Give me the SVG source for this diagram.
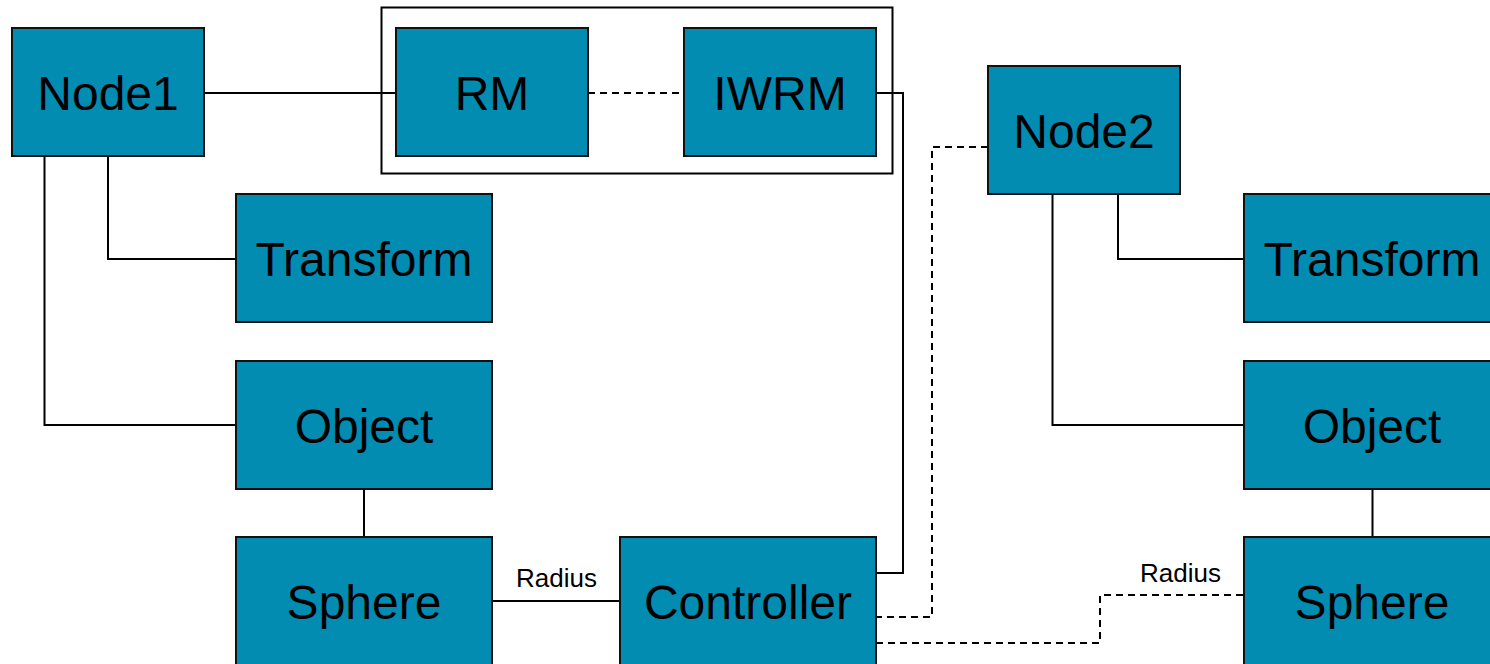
<svg xmlns="http://www.w3.org/2000/svg" width="1490" height="664" viewBox="0 0 1490 664">
<style>
.box{fill:#028cb2;stroke:#111;stroke-width:2}
.t{font-family:"Liberation Sans",Arial,sans-serif;font-size:48px;fill:#000;text-anchor:middle}
.lbl{font-family:"Liberation Sans",Arial,sans-serif;font-size:26px;fill:#000;text-anchor:middle}
.c{fill:none;stroke:#000;stroke-width:2}
.d{fill:none;stroke:#000;stroke-width:2;stroke-dasharray:7 5}
</style>
<rect width="1490" height="664" fill="#fff"/>
<g id="connectors">
<path class="c" d="M204 93H396"/>
<path class="d" d="M588 93H684"/>
<path class="c" d="M876 93H903V573H876"/>
<path class="d" d="M988 147H932V617H876"/>
<path class="d" d="M876 643H1100V595H1244"/>
<path class="c" d="M108 156V259H236"/>
<path class="c" d="M44.5 156V425H236"/>
<path class="c" d="M364 489V537"/>
<path class="c" d="M492 601H620"/>
<path class="c" d="M1118 194V259H1244"/>
<path class="c" d="M1052.5 194V425H1244"/>
<path class="c" d="M1372.5 489V537"/>
<text class="lbl" x="556.5" y="587">Radius</text>
<text class="lbl" x="1180.5" y="581.5">Radius</text>
</g>
<g id="group"><rect x="381.5" y="7.5" width="511" height="166" fill="none" stroke="#000" stroke-width="2"/></g>
<g id="node1"><rect class="box" x="12" y="28" width="192" height="128"/><text class="t" x="108" y="110">Node1</text></g>
<g id="rm"><rect class="box" x="396" y="28" width="192" height="128"/><text class="t" x="492" y="110">RM</text></g>
<g id="iwrm"><rect class="box" x="684" y="28" width="192" height="128"/><text class="t" x="780" y="110">IWRM</text></g>
<g id="node2"><rect class="box" x="988" y="66" width="192" height="128"/><text class="t" x="1084" y="148">Node2</text></g>
<g id="transform1"><rect class="box" x="236" y="194" width="256" height="128"/><text class="t" x="364" y="276">Transform</text></g>
<g id="object1"><rect class="box" x="236" y="361" width="256" height="128"/><text class="t" x="364" y="443">Object</text></g>
<g id="sphere1"><rect class="box" x="236" y="537" width="256" height="128"/><text class="t" x="364" y="619">Sphere</text></g>
<g id="controller"><rect class="box" x="620" y="537" width="256" height="128"/><text class="t" x="748" y="619">Controller</text></g>
<g id="transform2"><rect class="box" x="1244" y="194" width="256" height="128"/><text class="t" x="1372" y="276">Transform</text></g>
<g id="object2"><rect class="box" x="1244" y="361" width="256" height="128"/><text class="t" x="1372" y="443">Object</text></g>
<g id="sphere2"><rect class="box" x="1244" y="537" width="256" height="128"/><text class="t" x="1372" y="619">Sphere</text></g>
</svg>
